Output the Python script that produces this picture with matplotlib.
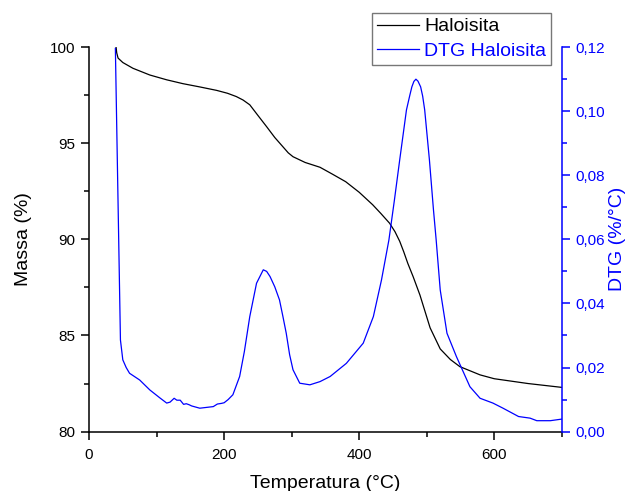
import matplotlib
matplotlib.use("Agg")
import matplotlib.pyplot as plt
from matplotlib.ticker import MultipleLocator, FuncFormatter

plt.rcParams["font.family"] = ["Liberation Sans", "DejaVu Sans"]

# TGA curve: residual mass vs temperature
temp_tga = [40, 41, 43, 50, 65, 90, 115, 139, 164, 189, 205, 218, 228, 238,
            250, 263, 275, 287, 295, 302, 320, 342, 360, 380, 400, 420, 432,
            445, 453, 460, 466, 472, 480, 490, 505, 520, 535, 549, 579, 600,
            650, 700]
mass = [100, 99.7, 99.43, 99.2, 98.9, 98.55, 98.3, 98.1, 97.93, 97.75, 97.6,
        97.43, 97.25, 97.0, 96.45, 95.86, 95.3, 94.82, 94.5, 94.3, 94.0, 93.75,
        93.4, 93.0, 92.45, 91.8, 91.35, 90.84, 90.4, 89.9, 89.35, 88.75, 88.05,
        87.1, 85.4, 84.3, 83.75, 83.38, 82.95, 82.75, 82.5, 82.3]

# DTG curve: derivative of mass loss
temp_dtg = [39, 46.5, 50, 55, 60, 75, 90, 105, 115, 120, 126, 130, 135, 140,
            144, 148, 152, 164, 184, 190, 196, 200, 206, 213, 223, 230, 238,
            248, 258, 263, 268, 275, 282, 287, 292, 297, 302, 312, 327, 342,
            357, 381, 406, 421, 433, 444, 452, 460, 470, 475, 478, 481, 484,
            487, 491, 494, 497, 504, 510, 514, 520, 530, 544, 554, 564, 579,
            598, 613, 636, 653, 663, 683, 700]
dtg = [0.1196, 0.0286, 0.0224, 0.0200, 0.0182, 0.0161, 0.0130, 0.0105, 0.0089,
       0.0092, 0.0104, 0.0098, 0.0098, 0.0085, 0.0087, 0.0084, 0.0080, 0.0073,
       0.0078, 0.0086, 0.0088, 0.0090, 0.0100, 0.0115, 0.0172, 0.0250, 0.0359,
       0.0463, 0.0505, 0.0500, 0.0484, 0.0452, 0.0411, 0.0360, 0.0307, 0.0240,
       0.0193, 0.0151, 0.0146, 0.0156, 0.0172, 0.0213, 0.0276, 0.0359, 0.0473,
       0.0598, 0.0720, 0.0848, 0.1004, 0.1050, 0.1076, 0.1093, 0.1100, 0.1094,
       0.1076, 0.1047, 0.1004, 0.0848, 0.0692, 0.0598, 0.0442, 0.0307, 0.0234,
       0.0187, 0.0140, 0.0104, 0.0089, 0.0073, 0.0047, 0.0042, 0.0034, 0.0034,
       0.0039]

blue = "#0000ff"

fig = plt.figure(figsize=(6.27, 4.91), dpi=100)
ax = fig.add_axes([0.142, 0.121, 0.754, 0.783])
ax2 = ax.twinx()

l1, = ax.plot(temp_tga, mass, color="black", lw=0.9, label="Haloisita")
l2, = ax2.plot(temp_dtg, dtg, color=blue, lw=0.9, label="DTG Haloisita")

ax.set_xlim(0, 700)
ax.set_ylim(80, 100)
ax2.set_ylim(0, 0.12)

ax.xaxis.set_major_locator(MultipleLocator(200))
ax.xaxis.set_minor_locator(MultipleLocator(100))
ax.yaxis.set_major_locator(MultipleLocator(5))
ax.yaxis.set_minor_locator(MultipleLocator(2.5))
ax2.yaxis.set_major_locator(MultipleLocator(0.02))
ax2.yaxis.set_minor_locator(MultipleLocator(0.01))
ax2.yaxis.set_major_formatter(FuncFormatter(lambda v, p: f"{v:.2f}".replace(".", ",")))

for a in (ax, ax2):
    a.spines["top"].set_visible(False)
    for s in a.spines.values():
        s.set_linewidth(1.1)
ax.spines["right"].set_visible(False)
ax2.spines["left"].set_visible(False)
ax2.spines["bottom"].set_visible(False)
ax2.spines["right"].set_color(blue)

ax.tick_params(which="major", length=6, width=1.1, labelsize=11, direction="out", pad=4)
ax.tick_params(axis="x", which="major", pad=5.5)
ax.tick_params(which="minor", length=3.5, width=1.1, direction="out")
ax2.tick_params(which="major", length=6, width=1.1, labelsize=11, colors=blue)
ax2.tick_params(which="minor", length=3.5, width=1.1, colors=blue)

ax.set_xlabel("Temperatura (°C)", fontsize=14, labelpad=10)
ax.set_ylabel("Massa (%)", fontsize=14, labelpad=13)
ax2.set_ylabel("DTG (%/°C)", fontsize=14, color=blue, labelpad=3)

leg = fig.legend(handles=[l1, l2], loc="upper right",
                 bbox_to_anchor=(551 / 627, 1 - 13 / 491), fontsize=14,
                 frameon=True, fancybox=False, borderpad=0.25,
                 handlelength=2.2, handletextpad=0.25, labelspacing=0.35,
                 borderaxespad=0)
leg.get_frame().set_edgecolor("#555555")
leg.get_frame().set_linewidth(1.0)
leg.get_texts()[1].set_color(blue)

fig.savefig("out.png", dpi=100)
